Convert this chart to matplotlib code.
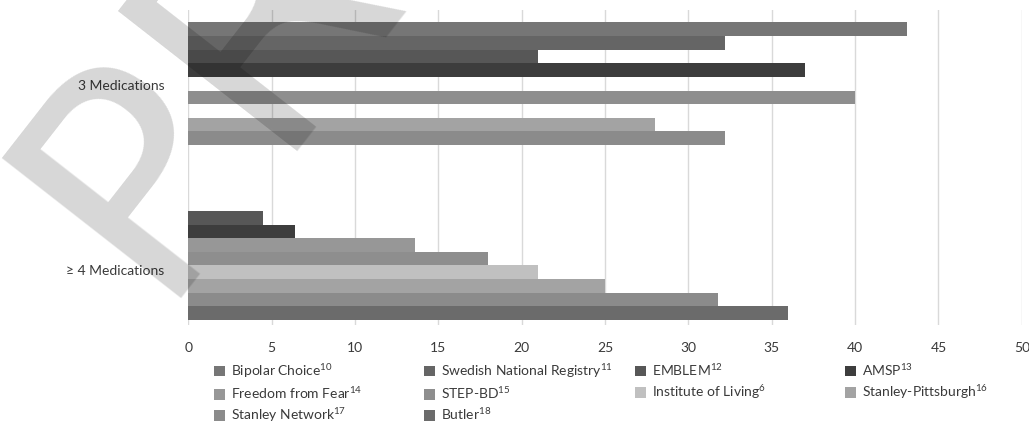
import matplotlib
matplotlib.use('Agg')
import matplotlib.pyplot as plt
import numpy as np

plt.rcParams['font.family'] = ['Lato', 'DejaVu Sans']
plt.rcParams['mathtext.fontset'] = 'custom'
plt.rcParams['mathtext.rm'] = 'Lato'
plt.rcParams['mathtext.it'] = 'Lato:italic'
plt.rcParams['mathtext.bf'] = 'Lato:bold'

# Data
categories = ['3 Medications', '\u2265 4 Medications']
series = ['Bipolar Choice', 'Swedish National Registry', 'EMBLEM', 'AMSP',
          'Freedom from Fear', 'STEP-BD', 'Institute of Living',
          'Stanley-Pittsburgh', 'Stanley Network', 'Butler']
refs = ['10', '11', '12', '13', '14', '15', '6', '16', '17', '18']
meds3 = [43.1, 32.2, 21.0, 37.0, 0, 40.0, 0, 28.0, 32.2, 0]
meds4 = [0, 0, 4.5, 6.4, 13.6, 18.0, 21.0, 25.0, 31.8, 36.0]
values = np.array([meds3, meds4]).T   # one row per series

colors = ['#767676', '#656565', '#575757', '#3d3d3d', '#979797',
          '#8e8e8e', '#c0c0c0', '#a3a3a3', '#8b8b8b', '#6b6b6b']

fig = plt.figure(figsize=(10.29, 4.25), dpi=100)
ax = fig.add_axes([0.183, 0.235, 0.810, 0.742])

cat_pos = np.array([0, 11.84])
bars = []
for j in range(len(series)):
    b = ax.barh(cat_pos + j, values[j], height=1.0, color=colors[j],
                linewidth=0, zorder=2,
                label=series[j] + r'$^{\mathregular{' + refs[j] + '}}$')
    bars.append(b)

ax.set_ylim(21.73, -1.43)
ax.set_xlim(0, 50)
ax.set_xticks(np.arange(0, 51, 5))
ax.set_yticks([4.1, 17.7])
ax.set_yticklabels(categories)
ax.tick_params(axis='both', length=0, labelsize=10, colors='#3a3a3a')
ax.tick_params(axis='y', pad=17)
ax.tick_params(axis='x', pad=12)
ax.xaxis.grid(True, color='#d9d9d9', linewidth=1.0, zorder=0)
ax.set_axisbelow(True)
for s in ax.spines.values():
    s.set_visible(False)

# legend: four columns placed side by side
col_x = [214, 424, 635, 845]
for c in range(4):
    idx = [j for j in range(len(series)) if j % 4 == c]
    fig.legend([bars[j] for j in idx], [bars[j].get_label() for j in idx],
               loc='upper left', bbox_to_anchor=(col_x[c] / 1029, 1 - 362 / 425),
               frameon=False, fontsize=10, handlelength=0.8, handleheight=0.8,
               handletextpad=0.45, labelspacing=0.38, borderpad=0,
               borderaxespad=0, labelcolor='#3a3a3a')

# watermark
fig.text(0.1468, 0.2965, 'PROOF', rotation=52, rotation_mode='anchor',
         ha='left', va='baseline', fontsize=225, family='DejaVu Sans',
         color='black', alpha=0.16, zorder=10)

plt.savefig('out.png', dpi=100)
